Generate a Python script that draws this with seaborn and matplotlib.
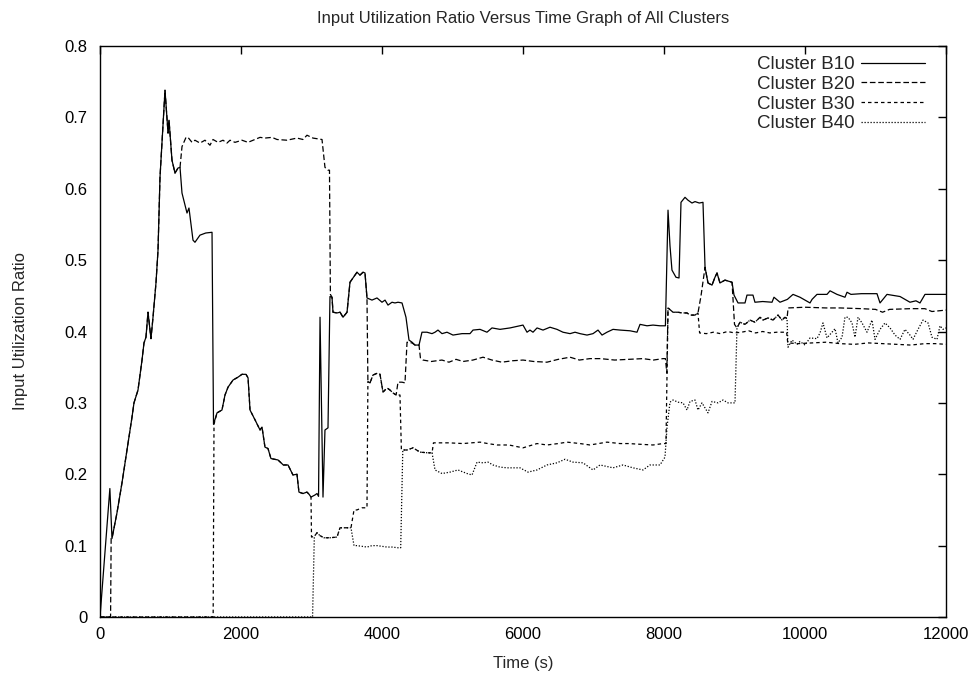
import matplotlib
matplotlib.use("Agg")
import matplotlib.pyplot as plt
import seaborn as sns
import pandas as pd

# ---------------- data (time in s, input utilization ratio) ----------------
t_b10 = [0, 70, 140, 170, 241, 312, 383, 454, 482, 539, 596, 624, 652, 681, 723, 752, 794, 823, 851, 922,
         965, 979, 1021, 1064, 1106, 1135, 1163, 1234, 1262, 1319, 1347, 1418, 1500, 1589, 1610, 1660, 1730,
         1773, 1816, 1887, 1957, 2014, 2071, 2100, 2128, 2200, 2270, 2298, 2340, 2383, 2425, 2525, 2600, 2667,
         2737, 2794, 2822, 2879, 2936, 2965, 2993, 3050, 3078, 3100, 3121, 3163, 3191, 3234, 3262, 3291, 3305,
         3362, 3405, 3447, 3504, 3546, 3589, 3645, 3688, 3730, 3759, 3787, 3858, 3929, 4000, 4043, 4085, 4142,
         4184, 4227, 4284, 4340, 4383, 4426, 4468, 4525, 4567, 4638, 4709, 4752, 4794, 4851, 4922, 4965, 5007,
         5135, 5248, 5291, 5390, 5489, 5560, 5674, 5816, 5957, 6000, 6057, 6099, 6142, 6199, 6284, 6383, 6482,
         6567, 6667, 6738, 6809, 6908, 6993, 7064, 7121, 7191, 7277, 7376, 7518, 7617, 7660, 7759, 7844, 7943,
         8020, 8057, 8085, 8113, 8170, 8213, 8241, 8298, 8340, 8397, 8440, 8500, 8553, 8582, 8624, 8681, 8723,
         8752, 8794, 8865, 8965, 8993, 9050, 9149, 9177, 9262, 9290, 9400, 9532, 9560, 9645, 9750, 9830, 9929,
         10071, 10100, 10170, 10312, 10355, 10454, 10567, 10596, 10652, 10800, 11021, 11064, 11163, 11348,
         11489, 11574, 11631, 11702, 11850, 12000]
u_b10 = [0.0, 0.09, 0.18, 0.11, 0.146, 0.188, 0.234, 0.28, 0.30, 0.318, 0.36, 0.384, 0.392, 0.427, 0.39, 0.42,
         0.468, 0.514, 0.616, 0.738, 0.678, 0.696, 0.64, 0.622, 0.629, 0.63, 0.594, 0.566, 0.573, 0.528, 0.525,
         0.535, 0.538, 0.539, 0.27, 0.286, 0.29, 0.311, 0.322, 0.332, 0.336, 0.34, 0.34, 0.335, 0.29, 0.276,
         0.262, 0.266, 0.238, 0.236, 0.222, 0.22, 0.213, 0.213, 0.199, 0.2, 0.175, 0.173, 0.175, 0.172, 0.168,
         0.171, 0.173, 0.169, 0.42, 0.168, 0.262, 0.265, 0.449, 0.448, 0.427, 0.426, 0.427, 0.42, 0.427, 0.469,
         0.475, 0.483, 0.479, 0.483, 0.482, 0.447, 0.444, 0.447, 0.441, 0.444, 0.437, 0.441, 0.44, 0.441, 0.44,
         0.42, 0.388, 0.385, 0.381, 0.381, 0.399, 0.399, 0.397, 0.399, 0.402, 0.397, 0.399, 0.397, 0.395,
         0.397, 0.397, 0.402, 0.403, 0.399, 0.405, 0.403, 0.405, 0.408, 0.409, 0.399, 0.402, 0.399, 0.405,
         0.402, 0.406, 0.403, 0.399, 0.397, 0.399, 0.397, 0.395, 0.397, 0.402, 0.395, 0.399, 0.403, 0.402,
         0.401, 0.399, 0.41, 0.408, 0.409, 0.408, 0.408, 0.57, 0.52, 0.486, 0.476, 0.475, 0.581, 0.588, 0.584,
         0.58, 0.582, 0.58, 0.581, 0.49, 0.468, 0.465, 0.476, 0.482, 0.468, 0.472, 0.469, 0.451, 0.44, 0.44,
         0.451, 0.451, 0.441, 0.442, 0.441, 0.448, 0.441, 0.445, 0.452, 0.448, 0.44, 0.445, 0.452, 0.452,
         0.457, 0.452, 0.448, 0.455, 0.452, 0.453, 0.453, 0.44, 0.452, 0.449, 0.441, 0.443, 0.44, 0.452, 0.452,
         0.452]

t_b20 = [0, 150, 158, 170, 241, 312, 383, 454, 482, 539, 596, 624, 652, 681, 723, 752, 794, 823, 851, 922,
         965, 979, 1021, 1064, 1106, 1135, 1163, 1220, 1248, 1305, 1347, 1418, 1489, 1560, 1603, 1674, 1745,
         1801, 1844, 1915, 2014, 2099, 2199, 2270, 2340, 2440, 2511, 2652, 2794, 2879, 2936, 3021, 3149, 3191,
         3234, 3255, 3268, 3291, 3305, 3362, 3405, 3447, 3504, 3546, 3589, 3645, 3688, 3730, 3759, 3787, 3800,
         3830, 3872, 3943, 3972, 4014, 4071, 4113, 4156, 4200, 4227, 4284, 4326, 4355, 4426, 4468, 4525, 4545,
         4582, 4700, 4850, 4950, 5050, 5150, 5290, 5433, 5560, 5700, 5850, 6000, 6150, 6340, 6500, 6667, 6800,
         6950, 7100, 7300, 7500, 7700, 7850, 7986, 8020, 8040, 8057, 8128, 8199, 8255, 8326, 8369, 8440, 8482,
         8525, 8582, 8624, 8681, 8723, 8752, 8794, 8865, 8965, 9000, 9035, 9078, 9149, 9220, 9291, 9362, 9404,
         9475, 9546, 9617, 9674, 9716, 9745, 9760, 10000, 10300, 10500, 10800, 11000, 11100, 11200, 11500,
         11700, 11800, 12000]
u_b20 = [0.0, 0.0, 0.11, 0.11, 0.146, 0.188, 0.234, 0.28, 0.30, 0.318, 0.36, 0.384, 0.392, 0.427, 0.39, 0.42,
         0.468, 0.514, 0.616, 0.738, 0.678, 0.696, 0.64, 0.622, 0.629, 0.63, 0.659, 0.672, 0.672, 0.665, 0.668,
         0.664, 0.668, 0.661, 0.669, 0.665, 0.668, 0.664, 0.668, 0.665, 0.668, 0.665, 0.669, 0.672, 0.671,
         0.672, 0.669, 0.668, 0.671, 0.669, 0.675, 0.671, 0.669, 0.63, 0.626, 0.626, 0.452, 0.448, 0.427, 0.426,
         0.427, 0.42, 0.427, 0.469, 0.475, 0.483, 0.479, 0.483, 0.482, 0.447, 0.33, 0.328, 0.339, 0.342, 0.34,
         0.315, 0.321, 0.318, 0.314, 0.311, 0.329, 0.329, 0.328, 0.385, 0.384, 0.381, 0.381, 0.363, 0.36,
         0.358, 0.36, 0.357, 0.361, 0.358, 0.36, 0.364, 0.36, 0.357, 0.359, 0.36, 0.358, 0.357, 0.361, 0.364,
         0.36, 0.362, 0.362, 0.36, 0.361, 0.362, 0.36, 0.362, 0.362, 0.342, 0.433, 0.427, 0.427, 0.426, 0.426,
         0.423, 0.423, 0.426, 0.45, 0.49, 0.468, 0.465, 0.476, 0.482, 0.468, 0.472, 0.469, 0.41, 0.405, 0.413,
         0.41, 0.416, 0.413, 0.42, 0.416, 0.419, 0.416, 0.423, 0.416, 0.42, 0.418, 0.433, 0.434, 0.433, 0.433,
         0.432, 0.431, 0.427, 0.431, 0.432, 0.432, 0.428, 0.43]

t_b30 = [0, 1605, 1617, 1660, 1730, 1773, 1816, 1887, 1957, 2014, 2071, 2100, 2128, 2200, 2270, 2298, 2340,
         2383, 2425, 2525, 2600, 2667, 2737, 2794, 2822, 2879, 2936, 2965, 2993, 3000, 3040, 3078, 3120, 3177,
         3262, 3362, 3404, 3475, 3560, 3603, 3645, 3716, 3787, 3800, 3830, 3872, 3943, 3972, 4014, 4071, 4113,
         4156, 4200, 4255, 4275, 4355, 4440, 4539, 4652, 4710, 4730, 4752, 4950, 5149, 5390, 5500, 5631, 5800,
         6000, 6199, 6340, 6500, 6624, 6809, 6950, 7191, 7376, 7500, 7660, 7844, 7986, 8028, 8057, 8128, 8199,
         8255, 8326, 8369, 8440, 8482, 8505, 8600, 8700, 8800, 8900, 9000, 9100, 9200, 9300, 9400, 9500, 9600,
         9740, 9755, 9900, 10100, 10300, 10500, 10700, 10900, 11100, 11300, 11500, 11700, 11850, 12000]
u_b30 = [0.0, 0.0, 0.27, 0.286, 0.29, 0.311, 0.322, 0.332, 0.336, 0.34, 0.34, 0.335, 0.29, 0.276, 0.262,
         0.266, 0.238, 0.236, 0.222, 0.22, 0.213, 0.213, 0.199, 0.2, 0.175, 0.173, 0.175, 0.172, 0.168, 0.112,
         0.113, 0.118, 0.114, 0.111, 0.111, 0.112, 0.125, 0.125, 0.125, 0.15, 0.15, 0.153, 0.153, 0.33, 0.328,
         0.339, 0.342, 0.34, 0.315, 0.321, 0.318, 0.314, 0.311, 0.311, 0.234, 0.234, 0.237, 0.231, 0.23, 0.23,
         0.244, 0.244, 0.244, 0.243, 0.245, 0.243, 0.241, 0.241, 0.237, 0.243, 0.241, 0.243, 0.245, 0.243,
         0.241, 0.245, 0.243, 0.243, 0.242, 0.241, 0.243, 0.243, 0.433, 0.427, 0.427, 0.426, 0.426, 0.423,
         0.423, 0.426, 0.398, 0.397, 0.399, 0.397, 0.4, 0.398, 0.399, 0.401, 0.398, 0.4, 0.398, 0.399, 0.399,
         0.384, 0.383, 0.384, 0.385, 0.383, 0.382, 0.384, 0.383, 0.382, 0.381, 0.383, 0.383, 0.382]

t_b40 = [0, 3015, 3040, 3078, 3120, 3177, 3262, 3362, 3404, 3475, 3560, 3603, 3645, 3716, 3787, 3858, 3929,
         4000, 4071, 4142, 4227, 4265, 4295, 4355, 4440, 4539, 4652, 4710, 4752, 4851, 4965, 5078, 5206, 5277,
         5348, 5433, 5504, 5574, 5674, 5773, 5957, 6071, 6199, 6340, 6482, 6596, 6709, 6851, 6993, 7092, 7277,
         7418, 7560, 7702, 7801, 7943, 8014, 8043, 8085, 8128, 8199, 8270, 8326, 8369, 8440, 8482, 8539, 8624,
         8681, 8766, 8837, 8908, 9007, 9035, 9078, 9149, 9220, 9291, 9362, 9404, 9475, 9546, 9617, 9674, 9716,
         9745, 9759, 9816, 9887, 9929, 10000, 10071, 10170, 10213, 10255, 10312, 10383, 10426, 10468, 10525,
         10567, 10610, 10667, 10709, 10752, 10809, 10879, 10950, 10993, 11064, 11135, 11206, 11277, 11348,
         11418, 11489, 11532, 11603, 11674, 11745, 11801, 11872, 11915, 11957, 12000]
u_b40 = [0.0, 0.0, 0.113, 0.118, 0.114, 0.111, 0.111, 0.112, 0.125, 0.125, 0.125, 0.1, 0.1, 0.099, 0.098,
         0.1, 0.1, 0.099, 0.098, 0.098, 0.097, 0.097, 0.234, 0.234, 0.237, 0.231, 0.23, 0.23, 0.206, 0.201,
         0.203, 0.206, 0.201, 0.199, 0.217, 0.216, 0.217, 0.213, 0.21, 0.209, 0.209, 0.203, 0.206, 0.213, 0.216,
         0.221, 0.217, 0.216, 0.206, 0.213, 0.209, 0.213, 0.209, 0.206, 0.213, 0.213, 0.224, 0.266, 0.301,
         0.304, 0.301, 0.3, 0.29, 0.302, 0.304, 0.29, 0.3, 0.286, 0.302, 0.3, 0.304, 0.3, 0.3, 0.405, 0.413,
         0.41, 0.416, 0.413, 0.42, 0.416, 0.419, 0.416, 0.423, 0.416, 0.42, 0.418, 0.378, 0.388, 0.382, 0.386,
         0.381, 0.391, 0.39, 0.398, 0.412, 0.391, 0.399, 0.404, 0.384, 0.392, 0.42, 0.42, 0.412, 0.392, 0.42,
         0.412, 0.399, 0.416, 0.389, 0.403, 0.412, 0.405, 0.395, 0.389, 0.403, 0.395, 0.389, 0.403, 0.416,
         0.412, 0.392, 0.389, 0.408, 0.403, 0.405]

series_names = ["Cluster B10", "Cluster B20", "Cluster B30", "Cluster B40"]
series_t = [t_b10, t_b20, t_b30, t_b40]
series_u = [u_b10, u_b20, u_b30, u_b40]

x_ticks = [0, 2000, 4000, 6000, 8000, 10000, 12000]
y_ticks = [0, 0.1, 0.2, 0.3, 0.4, 0.5, 0.6, 0.7, 0.8]
y_tick_labels = ["0", "0.1", "0.2", "0.3", "0.4", "0.5", "0.6", "0.7", "0.8"]

# ---------------- style ----------------
sns.set_style("white")
plt.rcParams["font.family"] = ["Liberation Sans", "DejaVu Sans"]
plt.rcParams["font.size"] = 12

line_styles = ["-", (0, (4.5, 2.2)), (0, (2.8, 2.4)), (0, (1.0, 1.4))]

fig = plt.figure(figsize=(9.8, 6.79), dpi=100)
ax = fig.add_axes([100 / 980, 62 / 679, 846 / 980, 571 / 679])

for name, tt, uu, ls in zip(series_names, series_t, series_u, line_styles):
    df = pd.DataFrame({"Time": tt, "Ratio": uu})
    sns.lineplot(data=df, x="Time", y="Ratio", ax=ax, color="black", linewidth=0.9,
                 linestyle=ls, label=name, estimator=None, sort=False)

ax.set_xlim(0, 12000)
ax.set_ylim(0, 0.8)
ax.set_xticks(x_ticks)
ax.set_xticklabels([str(v) for v in x_ticks])
ax.set_yticks(y_ticks)
ax.set_yticklabels(y_tick_labels)
ax.tick_params(direction="in", top=True, right=True, length=5.5, width=1.0,
               labelsize=12, colors="black")
ax.tick_params(axis="y", pad=9)
ax.tick_params(axis="x", pad=7)
for s in ax.spines.values():
    s.set_visible(True)
    s.set_color("black")
    s.set_linewidth(1.0)

ax.set_xlabel("Time (s)", fontsize=12, labelpad=10)
ax.set_ylabel("Input Utilization Ratio", fontsize=12, labelpad=26)
fig.text(523 / 980, 1 - 18 / 679, "Input Utilization Ratio Versus Time Graph of All Clusters",
         ha="center", va="center", fontsize=12)

leg = ax.legend(loc="upper right", bbox_to_anchor=(925 / 980, 1 - 56 / 679),
                bbox_transform=fig.transFigure, frameon=False, markerfirst=False,
                handlelength=3.4, handletextpad=0.35, borderaxespad=0, borderpad=0,
                labelspacing=0.14, fontsize=13.5)

fig.savefig("out.png", dpi=100)
